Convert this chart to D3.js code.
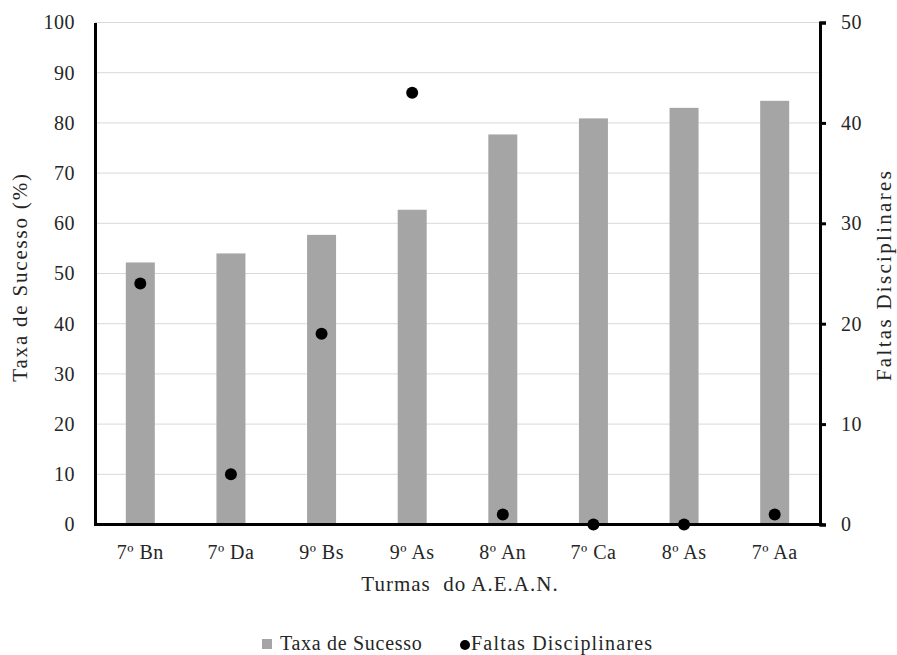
<!DOCTYPE html>
<html><head><meta charset="utf-8">
<script src="https://cdn.jsdelivr.net/npm/d3@7"></script>
<style>body{margin:0;background:#fff}svg{display:block}svg text{font-family:"Liberation Serif","Times New Roman",Times,serif !important}</style>
</head><body><svg id="c" width="897" height="655"></svg>
<script>
const categories = ["7º Bn","7º Da","9º Bs","9º As","8º An","7º Ca","8º As","7º Aa"];
const taxaSucesso = [52.2, 54.0, 57.7, 62.7, 77.7, 80.9, 83.0, 84.4];
const faltas = [24, 5, 19, 43, 1, 0, 0, 1];
const leftTicks = [0,10,20,30,40,50,60,70,80,90,100];
const rightTicks = [0,10,20,30,40,50];

const svg = d3.select("#c");
const L = 95, R = 820, T = 22.5, B = 524.5;
const x = d3.scaleBand().domain(categories).range([L, R]).paddingInner(0.68).paddingOuter(0.34);
const yL = d3.scaleLinear().domain([0, 100]).range([B, T]);
const yR = d3.scaleLinear().domain([0, 50]).range([B, T]);
const ink = "#262626";

svg.append("g").selectAll("line").data(leftTicks.filter(d => d > 0)).join("line")
  .attr("x1", L).attr("x2", R).attr("y1", d => yL(d)).attr("y2", d => yL(d))
  .attr("stroke", "#d9d9d9").attr("stroke-width", 1);

svg.append("g").selectAll("rect").data(categories).join("rect")
  .attr("x", d => x(d)).attr("width", x.bandwidth())
  .attr("y", (d, i) => yL(taxaSucesso[i])).attr("height", (d, i) => B - yL(taxaSucesso[i]))
  .attr("fill", "#a5a5a5");

const gl = svg.append("g").attr("transform", `translate(${L},0)`)
  .call(d3.axisLeft(yL).tickValues(leftTicks).tickSize(0).tickPadding(20));
gl.select(".domain").attr("stroke", "#000").attr("stroke-width", 3);
gl.selectAll("text").attr("font-size", 20).attr("letter-spacing", 0.5).attr("fill", ink);

const gr = svg.append("g").attr("transform", `translate(${R},0)`)
  .call(d3.axisRight(yR).tickValues(rightTicks).tickSize(6).tickPadding(15).tickSizeOuter(6));
gr.select(".domain").attr("stroke", "#000").attr("stroke-width", 3);
gr.selectAll(".tick line").attr("stroke", "#000").attr("stroke-width", 3);
gr.selectAll("text").attr("font-size", 20).attr("letter-spacing", 0.5).attr("fill", ink);

const gb = svg.append("g").attr("transform", `translate(0,${B})`)
  .call(d3.axisBottom(x).tickSize(0).tickPadding(20));
gb.select(".domain").attr("stroke", "#000").attr("stroke-width", 3).attr("d", `M${L-1},0H${R+3}`);
gb.selectAll("text").attr("font-size", 20).attr("letter-spacing", 0.5).attr("fill", ink);

svg.append("g").selectAll("circle").data(categories).join("circle")
  .attr("cx", d => x(d) + x.bandwidth() / 2).attr("cy", (d, i) => yR(faltas[i]))
  .attr("r", 6).attr("fill", "#000");

svg.append("text").attr("transform", "translate(27,277) rotate(-90)").attr("text-anchor", "middle")
  .attr("font-size", 21).attr("letter-spacing", 1.8).attr("fill", ink).text("Taxa de Sucesso (%)");
svg.append("text").attr("transform", "translate(891,275) rotate(-90)").attr("text-anchor", "middle")
  .attr("font-size", 21).attr("letter-spacing", 2.3).attr("fill", ink).text("Faltas Disciplinares");
svg.append("text").attr("x", 460).attr("y", 591).attr("text-anchor", "middle")
  .attr("font-size", 21).attr("letter-spacing", 1).attr("fill", ink).attr("xml:space", "preserve").text("Turmas  do A.E.A.N.");

const lg = svg.append("g");
lg.append("rect").attr("x", 262).attr("y", 639).attr("width", 10).attr("height", 10).attr("fill", "#a5a5a5");
lg.append("text").attr("x", 280).attr("y", 650).attr("font-size", 20).attr("letter-spacing", 0.7).attr("fill", ink).text("Taxa de Sucesso");
lg.append("circle").attr("cx", 465).attr("cy", 645).attr("r", 5).attr("fill", "#000");
lg.append("text").attr("x", 471).attr("y", 650).attr("font-size", 20).attr("letter-spacing", 1.2).attr("fill", ink).text("Faltas Disciplinares");
</script></body></html>
